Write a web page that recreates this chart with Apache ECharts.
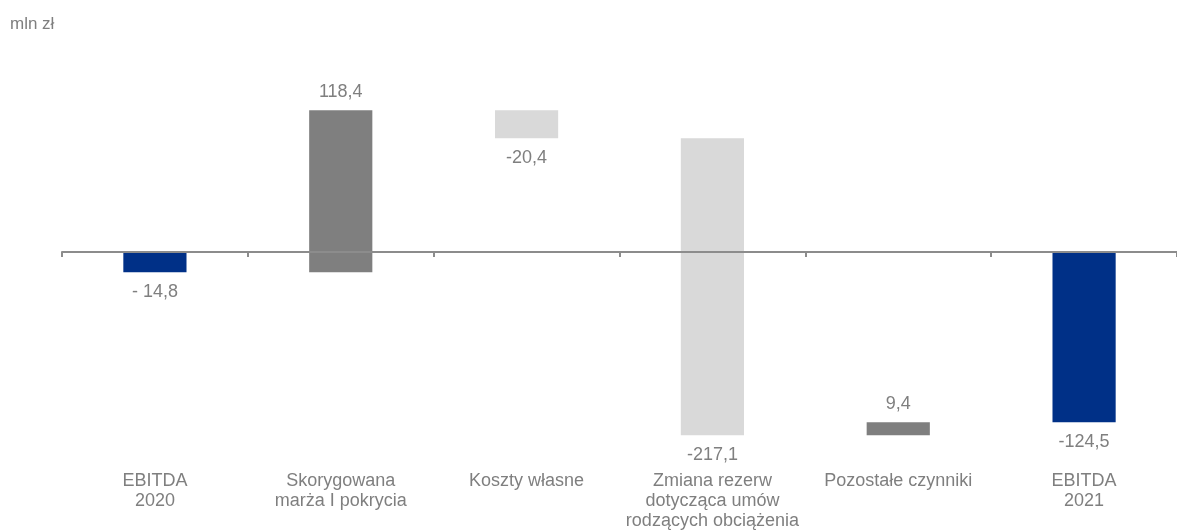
<!DOCTYPE html>
<html>
<head>
<meta charset="utf-8">
<script src="https://cdn.jsdelivr.net/npm/echarts@6/dist/echarts.min.js"></script>
<style>
html,body{margin:0;padding:0;background:#fff;}
#chart{width:1177px;height:532px;}
</style>
</head>
<body>
<div id="chart"></div>
<script>
const categories = ['EBITDA\n2020', 'Skorygowana\nmarża I pokrycia', 'Koszty własne', 'Zmiana rezerw\ndotycząca umów\nrodzących obciążenia', 'Pozostałe czynniki', 'EBITDA\n2021'];
const values = [-14.8, 118.4, -20.4, -217.1, 9.4, -124.5];
const kinds = ['total', 'increase', 'decrease', 'decrease', 'increase', 'total'];
const valueLabels = ['- 14,8', '118,4', '-20,4', '-217,1', '9,4', '-124,5'];
const unitLabel = 'mln zł';

const kindColors = { total: '#003087', increase: '#7f7f7f', decrease: '#d9d9d9' };
const textColor = '#7f7f7f';
const axisColor = '#8c8c8c';

// build waterfall ranges
let running = 0;
const rows = values.map((v, i) => {
  let s, e;
  if (kinds[i] === 'total') { s = 0; e = v; }
  else { s = running; e = running + v; }
  running = e;
  return [i, s, e];
});

const chart = echarts.init(document.getElementById('chart'), null, { renderer: 'canvas' });
chart.setOption({
  animation: false,
  grid: { left: 62, right: 0, top: 19.4, bottom: 74.8, containLabel: false },
  graphic: [{
    type: 'text', left: 10, top: 16,
    style: { text: unitLabel, fill: textColor, font: '17px Arial, "Liberation Sans", sans-serif' }
  }],
  xAxis: [
    {
      type: 'category', data: categories, position: 'bottom',
      axisLine: { show: false, onZero: false }, axisTick: { show: false },
      axisLabel: { color: textColor, fontSize: 18, fontFamily: 'Arial, "Liberation Sans", sans-serif', lineHeight: 20, margin: 14, interval: 0 },
      splitLine: { show: false }
    },
    {
      type: 'category', data: categories, position: 'top', z: 10,
      axisLine: { show: true, onZero: true, lineStyle: { color: axisColor, width: 2 } },
      axisTick: { show: true, inside: true, length: 5, lineStyle: { color: axisColor, width: 2 } },
      axisLabel: { show: false }, splitLine: { show: false }
    }
  ],
  yAxis: {
    type: 'value', min: -150, max: 170, show: false,
    splitLine: { show: false }
  },
  series: [{
    type: 'custom',
    xAxisIndex: 0,
    data: rows,
    encode: { x: 0, y: [1, 2] },
    renderItem: function (params, api) {
      const i = api.value(0);
      const s = api.value(1), e = api.value(2);
      const p1 = api.coord([i, s]);
      const p2 = api.coord([i, e]);
      const w = api.size([1, 0])[0] * 0.34;
      const top = Math.min(p1[1], p2[1]);
      const bottom = Math.max(p1[1], p2[1]);
      const up = values[i] > 0;
      return {
        type: 'group',
        children: [
          { type: 'rect', shape: { x: p1[0] - w / 2, y: top, width: w, height: bottom - top },
            style: { fill: kindColors[kinds[i]] } },
          { type: 'text',
            style: { text: valueLabels[i], x: p1[0], y: up ? top - 9 : bottom + 11,
                     align: 'center', verticalAlign: up ? 'bottom' : 'top',
                     fill: textColor, font: '18px Arial, "Liberation Sans", sans-serif' } }
        ]
      };
    }
  }]
});
</script>
</body>
</html>
